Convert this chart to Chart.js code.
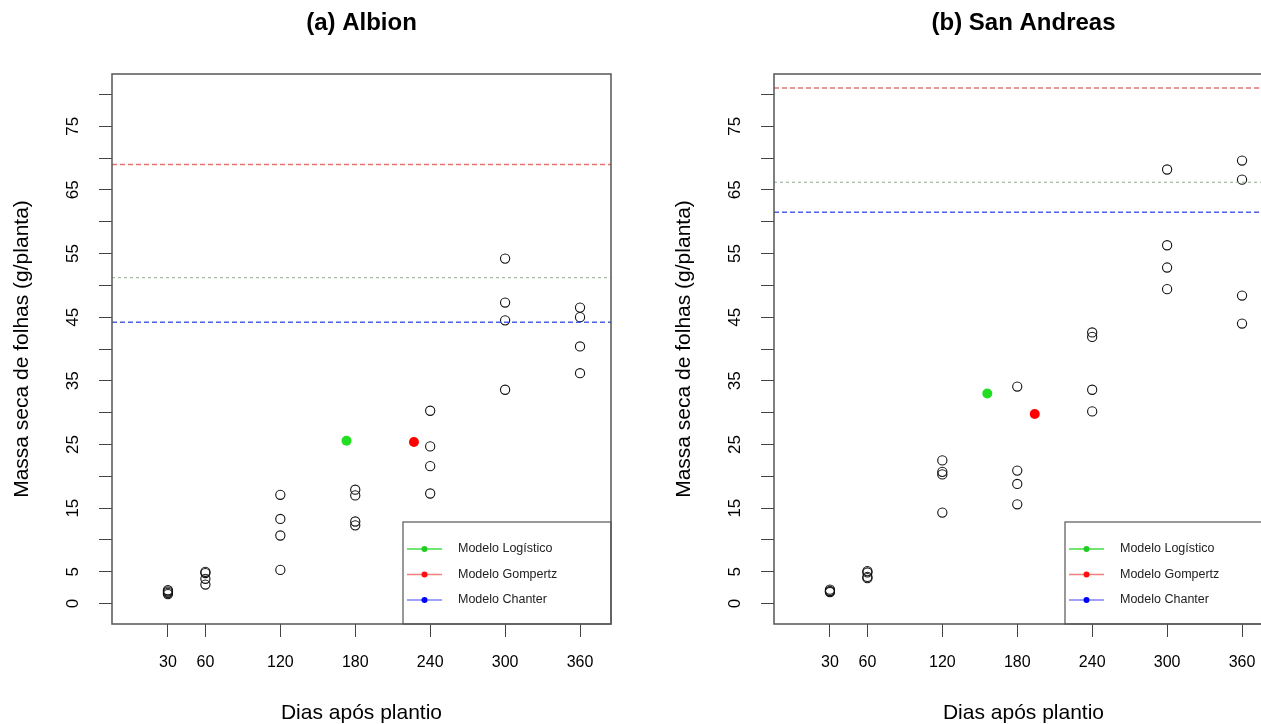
<!DOCTYPE html>
<html>
<head>
<meta charset="utf-8">
<script src="https://cdn.jsdelivr.net/npm/chart.js@4.4.0/dist/chart.umd.min.js"></script>
<style>
  html, body { margin: 0; padding: 0; background: #fff; width: 1261px; height: 724px; overflow: hidden; }
  canvas { position: absolute; top: 0; }
  #chartAlbion { left: 0; }
  #chartSanAndreas { left: 640px; }
</style>
</head>
<body>
<canvas id="chartAlbion" width="640" height="724"></canvas>
<canvas id="chartSanAndreas" width="663" height="724"></canvas>
<script>
const FONT = "'Liberation Sans', Arial, Helvetica, sans-serif";

// eixos
const dias = [30, 60, 120, 180, 240, 300, 360];
const yTicks = [0, 5, 10, 15, 20, 25, 30, 35, 40, 45, 50, 55, 60, 65, 70, 75, 80];
const yLabels = [0, 5, 15, 25, 35, 45, 55, 65, 75];
const modelos = ['Modelo Logístico', 'Modelo Gompertz', 'Modelo Chanter'];

// (a) Albion - 4 repetições por data
const albionMassa = [
  [2.1, 1.9, 1.7, 1.5],
  [5.0, 4.8, 3.9, 3.0],
  [17.1, 13.3, 10.7, 5.3],
  [17.9, 17.0, 12.9, 12.3],
  [30.3, 24.7, 21.6, 17.3],
  [54.2, 47.3, 44.5, 33.6],
  [46.5, 45.0, 40.4, 36.2]
];
const albionInflexao = [[173, 25.6], [227, 25.4]];   // logístico, gompertz
const albionAssintota = [51.2, 69.0, 44.2];          // logístico, gompertz, chanter

// (b) San Andreas
const sanAndreasMassa = [
  [2.2, 2.0, 1.9, 1.8],
  [5.1, 4.9, 4.2, 4.0],
  [22.5, 20.7, 20.3, 14.3],
  [34.1, 20.9, 18.8, 15.6],
  [42.6, 41.9, 33.6, 30.2],
  [68.2, 56.3, 52.8, 49.4],
  [69.6, 66.6, 48.4, 44.0]
];
const sanAndreasInflexao = [[156, 33.0], [194, 29.8]];
const sanAndreasAssintota = [66.2, 81.0, 61.5];

// limites no estilo do R (xlim 0-370, ylim 0-80, +4%)
const xMin = -14.8, xMax = 384.8;
const yMin = -3.2, yMax = 83.2;

const legendLine = ['#44dd44', '#f08080', '#8080ff'];
const legendPoint = ['#22cc22', '#ff1010', '#0000ff'];

const rStyle = {
  id: 'rStyle',
  afterDatasetsDraw(chart, args, opts) {
    const { ctx, chartArea: a } = chart;
    const y = chart.scales.y;
    ctx.save();

    // legenda
    const bx = a.right - 208, by = a.bottom - 102;
    ctx.fillStyle = '#fff';
    ctx.fillRect(bx, by, a.right - bx, a.bottom - by);
    ctx.strokeStyle = '#555';
    ctx.lineWidth = 1.2;
    ctx.strokeRect(bx, by, a.right - bx, a.bottom - by);
    ctx.font = '12.5px ' + FONT;
    ctx.textAlign = 'left';
    ctx.textBaseline = 'middle';
    modelos.forEach((m, i) => {
      const ly = by + 27 + i * 25.5;
      ctx.strokeStyle = legendLine[i];
      ctx.lineWidth = 1.5;
      ctx.beginPath();
      ctx.moveTo(bx + 4, ly);
      ctx.lineTo(bx + 39, ly);
      ctx.stroke();
      ctx.fillStyle = legendPoint[i];
      ctx.beginPath();
      ctx.arc(bx + 21.5, ly, 3, 0, Math.PI * 2);
      ctx.fill();
      ctx.fillStyle = '#222';
      ctx.fillText(m, bx + 55, ly);
    });

    // moldura
    ctx.strokeStyle = '#555';
    ctx.lineWidth = 1.5;
    ctx.strokeRect(a.left, a.top, a.right - a.left, a.bottom - a.top);

    // título
    ctx.fillStyle = '#000';
    ctx.font = 'bold 24px ' + FONT;
    ctx.textAlign = 'center';
    ctx.fillText(opts.titulo, (a.left + a.right) / 2, 23);

    // rótulos do eixo y (paralelos ao eixo)
    ctx.font = '17px ' + FONT;
    yLabels.forEach(v => {
      ctx.save();
      ctx.translate(a.left - 39, y.getPixelForValue(v));
      ctx.rotate(-Math.PI / 2);
      ctx.fillText(String(v), 0, 0);
      ctx.restore();
    });
    ctx.restore();
  }
};

function hLine(valor, cor, dash, largura) {
  return {
    data: [{ x: xMin, y: valor }, { x: xMax, y: valor }],
    showLine: true,
    borderColor: cor,
    borderWidth: largura,
    borderDash: dash,
    pointRadius: 0
  };
}

function makeChart(id, titulo, massa, inflexao, assintota, areaLeft, padRight, yTitleX) {
  const obs = dias.flatMap((d, i) => massa[i].map(v => ({ x: d, y: v })));
  const grid = { drawOnChartArea: false, drawTicks: true, tickLength: 13, color: '#444', lineWidth: 1 };

  return new Chart(document.getElementById(id), {
    type: 'scatter',
    data: {
      datasets: [
        hLine(assintota[0], 'rgba(110,140,110,0.75)', [3, 3], 1),
        hLine(assintota[1], 'rgba(225,90,90,0.85)', [5, 3], 1.5),
        hLine(assintota[2], 'rgba(60,80,220,0.9)', [5, 3], 1.5),
        {
          data: [{ x: inflexao[0][0], y: inflexao[0][1] }],
          pointRadius: 5, backgroundColor: '#22dd22', borderColor: '#22dd22', borderWidth: 0
        },
        {
          data: [{ x: inflexao[1][0], y: inflexao[1][1] }],
          pointRadius: 5, backgroundColor: '#ff0000', borderColor: '#ff0000', borderWidth: 0
        },
        {
          data: obs,
          pointRadius: 4.6,
          backgroundColor: 'rgba(0,0,0,0)',
          borderColor: '#111',
          borderWidth: 1.1
        }
      ]
    },
    options: {
      responsive: false,
      animation: false,
      events: [],
      layout: { padding: { top: 74, bottom: 0, left: 0, right: padRight } },
      plugins: {
        legend: { display: false },
        tooltip: { enabled: false },
        rStyle: { titulo }
      },
      scales: {
        x: {
          type: 'linear', min: xMin, max: xMax,
          afterBuildTicks: s => { s.ticks = dias.map(v => ({ value: v })); },
          afterFit: s => { s.height = 100; },
          grid,
          border: { display: false },
          ticks: { color: '#000', font: { size: 16, family: FONT }, padding: 16, maxRotation: 0, autoSkip: false },
          title: {
            display: true, text: 'Dias após plantio', color: '#000',
            font: { size: 21, family: FONT, lineHeight: 1 }, padding: 0
          }
        },
        y: {
          type: 'linear', min: yMin, max: yMax,
          afterBuildTicks: s => { s.ticks = yTicks.map(v => ({ value: v })); },
          afterFit: s => { s.width = areaLeft; },
          grid,
          border: { display: false },
          ticks: { display: false },
          title: {
            display: true, text: 'Massa seca de folhas (g/planta)', color: '#000',
            font: { size: 21, family: FONT, lineHeight: 1 }, padding: { top: yTitleX - 10.5, bottom: 0 }
          }
        }
      }
    },
    plugins: [rStyle]
  });
}

makeChart('chartAlbion', '(a) Albion', albionMassa, albionInflexao, albionAssintota, 112, 29, 22);
makeChart('chartSanAndreas', '(b) San Andreas', sanAndreasMassa, sanAndreasInflexao, sanAndreasAssintota, 134, 30, 44);
</script>
</body>
</html>
